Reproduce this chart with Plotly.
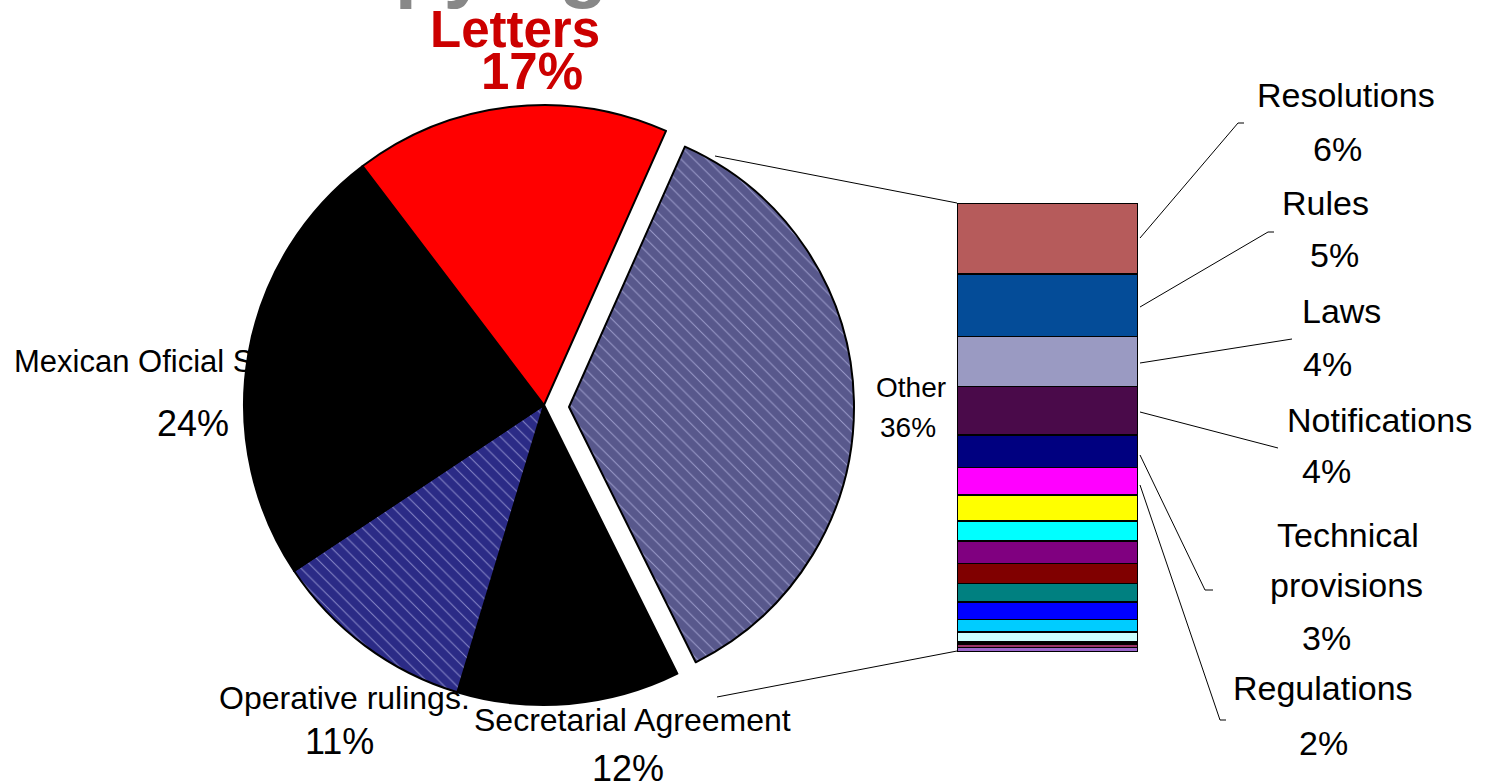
import plotly.graph_objects as go

W, H = 1490, 784
FONT = "Liberation Sans, Arial, sans-serif"

# Breakdown of the "Other" group (percent of all documents), top segment first
other_labels = [
    "Resolutions", "Rules", "Laws", "Notifications", "Technical provisions",
    "Regulations", "Other 7", "Other 8", "Other 9", "Other 10", "Other 11",
    "Other 12", "Other 13", "Other 14", "Other 15", "Other 16", "Other 17",
]
other_values = [5.7, 5.0, 4.0, 3.9, 2.6, 2.2, 2.1, 1.6, 1.8, 1.6, 1.5,
                1.4, 1.0, 0.8, 0.15, 0.3, 0.35]
other_colors = [
    "#b65b5b", "#044c98", "#9a9ac2", "#4a0a4a", "#000080", "#ff00ff",
    "#ffff00", "#00ffff", "#800080", "#800000", "#008080", "#0000ff",
    "#00ccff", "#ccffff", "#ffff99", "#993366", "#9966cc",
]
# labelled rows of the bar, with the lines of their captions
bar_captions = {
    "Resolutions": ["Resolutions"],
    "Rules": ["Rules"],
    "Laws": ["Laws"],
    "Notifications": ["Notifications"],
    "Technical provisions": ["Technical", "provisions"],
    "Regulations": ["Regulations"],
}

# Main pie (percent), clockwise starting with the detached "Other" wedge
pie_labels = ["Other", "Secretarial Agreement", "Operative rulings.",
              "Mexican Oficial Standards", "Letters"]
pie_values = [round(sum(other_values), 1), 12, 11, 24, 17]
pie_colors = ["#58588c", "#000000", "#2b2b86", "#000000", "#ff0000"]
pie_hatch = ["\\", "", "\\", "", ""]

CLEAR = "rgba(0,0,0,0)"


def px_domain(cx, cy, r):
    """Paper-space domain for a pie of radius r centred at pixel (cx, cy)."""
    return dict(x=[(cx - r) / W, (cx + r) / W],
                y=[1 - (cy + r) / H, 1 - (cy - r) / H])


def caption(text, cx, baseline, size, color="black", weight="normal",
            xanchor="center"):
    return dict(text=text, x=cx / W, y=1 - (baseline - 0.35 * size) / H,
                xref="paper", yref="paper", xanchor=xanchor, yanchor="middle",
                showarrow=False,
                font=dict(family=FONT, size=size, color=color, weight=weight))


fig = go.Figure()

# label of the left wedge sits underneath the pie (cartesian layer)
fig.add_trace(go.Scatter(
    x=[14], y=[375 - 0.35 * 31], mode="text", text=[pie_labels[3]],
    textposition="middle right",
    textfont=dict(family=FONT, size=31, color="black"),
    xaxis="x2", yaxis="y2", hoverinfo="skip", showlegend=False,
))

# stacked bar that breaks down "Other" (bottom segment first)
for lab, val, col in reversed(list(zip(other_labels, other_values, other_colors))):
    fig.add_trace(go.Bar(
        x=[0], y=[val], width=[1], name=lab,
        marker=dict(color=col, line=dict(color="black", width=1.5)),
        xaxis="x", yaxis="y", showlegend=False,
    ))

pattern = dict(fillmode="overlay", fgcolor="#c8c8f4", fgopacity=0.6,
               size=9, solidity=0.11)

# whole pie without the "Other" wedge
fig.add_trace(go.Pie(
    labels=pie_labels, values=pie_values, sort=False, direction="clockwise",
    rotation=24, textinfo="none", hoverinfo="label+percent",
    marker=dict(colors=[CLEAR] + pie_colors[1:],
                line=dict(color="black", width=[0, 2, 2, 2, 2]),
                pattern=dict(shape=[""] + pie_hatch[1:], **pattern)),
    domain=px_domain(544, 405, 300), showlegend=False,
))
# detached "Other" wedge
fig.add_trace(go.Pie(
    labels=pie_labels, values=pie_values, sort=False, direction="clockwise",
    rotation=24, textinfo="none", hoverinfo="skip",
    marker=dict(colors=[pie_colors[0]] + [CLEAR] * 4,
                line=dict(color="black", width=[2, 0, 0, 0, 0]),
                pattern=dict(shape=[pie_hatch[0]] + [""] * 4, **pattern)),
    domain=px_domain(569, 407, 285), showlegend=False,
))

# connector and leader lines (pixel space of the overlay axes)
lines = [
    [(715, 156), (957, 203)],
    [(717, 697), (957, 651)],
    [(1140, 238), (1238, 123), (1244, 123)],
    [(1140, 307), (1268, 232), (1274, 232)],
    [(1140, 363), (1292, 339)],
    [(1140, 412), (1278, 448)],
    [(1140, 455), (1205, 590), (1213, 590)],
    [(1140, 485), (1220, 720), (1226, 720)],
]
shapes = []
for pts in lines:
    path = "M " + " L ".join(f"{x},{y}" for x, y in pts)
    shapes.append(dict(type="path", path=path, xref="x2", yref="y2",
                       line=dict(color="black", width=1)))

pct = {lab: f"{round(v)}%" for lab, v in zip(pie_labels, pie_values)}
anns = [
    caption("Copying", 448, -7, 80, color="#888888", weight="bold"),
    caption(pie_labels[4], 515, 47, 51, color="#cc0000", weight="bold"),
    caption(pct["Letters"], 532, 89, 51, color="#cc0000", weight="bold"),
    caption(pct["Mexican Oficial Standards"], 193, 436, 36),
    caption(pie_labels[0], 911, 397, 28),
    caption(pct["Other"], 908, 437, 28),
    caption(pie_labels[2], 344, 709, 32),
    caption(pct["Operative rulings."], 339, 754, 36),
    caption(pie_labels[1], 632, 731, 32),
    caption(pct["Secretarial Agreement"], 628, 781, 36),
]

# captions of the bar rows: (centre x of name lines, name baselines, pct centre, pct baseline)
caption_pos = {
    "Resolutions": ([1346], [107], 1337, 161),
    "Rules": ([1325], [215], 1334, 267),
    "Laws": ([1341], [323], 1327, 376),
    "Notifications": ([1379], [432], 1326, 483),
    "Technical provisions": ([1348, 1346], [547, 597], 1326, 650),
    "Regulations": ([1323], [700], 1323, 755),
}
other_pct = {lab: f"{round(v)}%" for lab, v in zip(other_labels, other_values)}
for lab, lines_txt in bar_captions.items():
    xs, bases, pcx, pby = caption_pos[lab]
    for t, cx, b in zip(lines_txt, xs, bases):
        anns.append(caption(t, cx, b, 34))
    anns.append(caption(other_pct[lab], pcx, pby, 34))

fig.update_layout(
    width=W, height=H, margin=dict(l=0, r=0, t=0, b=0),
    template="none", paper_bgcolor="white", plot_bgcolor=CLEAR,
    barmode="stack", showlegend=False,
    xaxis=dict(domain=[957 / W, 1138 / W], range=[-0.5, 0.5], visible=False,
               fixedrange=True),
    yaxis=dict(domain=[(H - 652) / H, (H - 203) / H],
               range=[0, sum(other_values)], visible=False, fixedrange=True),
    xaxis2=dict(domain=[0, 1], range=[0, W], visible=False, fixedrange=True),
    yaxis2=dict(domain=[0, 1], range=[H, 0], visible=False, fixedrange=True),
    shapes=shapes, annotations=anns,
)

fig.write_html("out.html")
